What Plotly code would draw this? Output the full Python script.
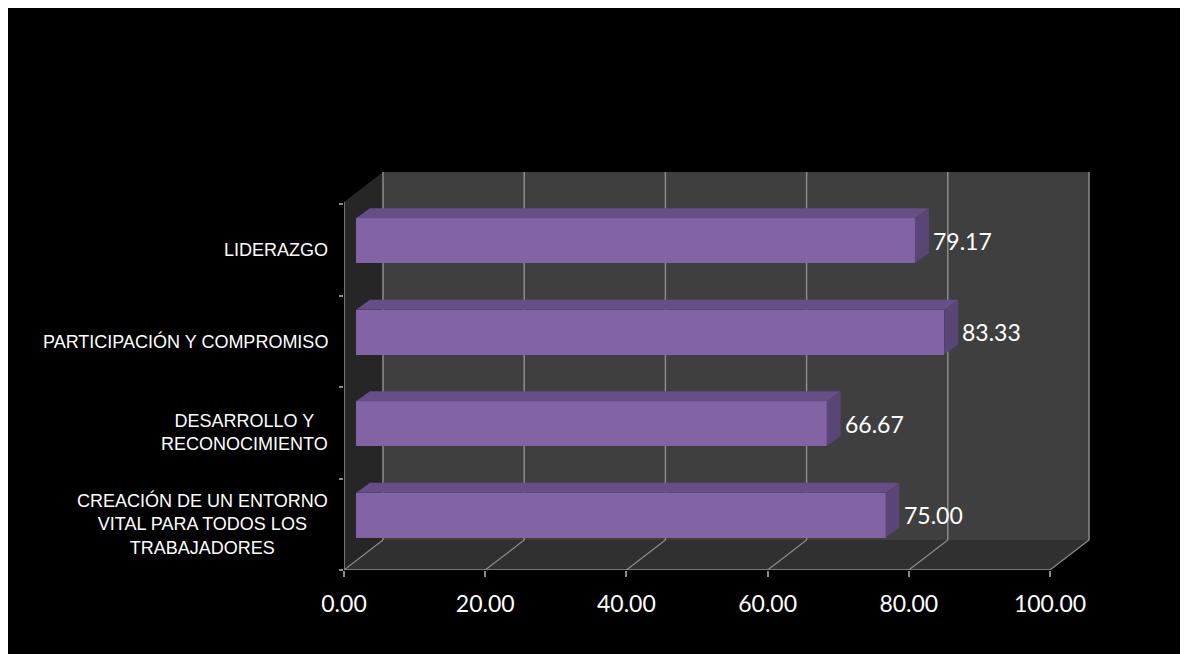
import plotly.graph_objects as go

# ---- data ----
categories = ["CREACIÓN DE UN ENTORNO<br>VITAL PARA TODOS LOS<br>TRABAJADORES",
              "DESARROLLO Y<br>RECONOCIMIENTO",
              "PARTICIPACIÓN Y COMPROMISO",
              "LIDERAZGO"]
values = [75.00, 66.67, 83.33, 79.17]
x_ticks = [0, 20, 40, 60, 80, 100]
x_ticklabels = ["0.00", "20.00", "40.00", "60.00", "80.00", "100.00"]

# ---- 3D geometry (in axis units) ----
W, H = 1180, 646          # page body margin (8px) gives the white border
OFF = 8
PL, PR = 344 - OFF, 1096 - OFF     # plot area left/right (figure px)
PB, PT = 570 - OFF, 167 - OFF      # plot area bottom/top (figure px)
PX_PER_X = 7.06
PX_PER_Y = 91.5
DX = 39 / PX_PER_X       # depth shift of the back wall, x units
DY = 30 / PX_PER_Y       # depth shift of the back wall, y units
TOP_BACK = (570 - 172) / PX_PER_Y
TOP_FRONT = TOP_BACK - DY
XMAX = 100
BAR_OFF_X = 12 / PX_PER_X
BAR_OFF_Y = 0.10
BAR_W = 0.49
BAR_DX = 14 / PX_PER_X
BAR_DY = 10 / PX_PER_Y

FONT_NUM = "Lato"
GRID = "#8c8c8c"

fig = go.Figure()
shapes = []

def poly(pts):
    return "M " + " L ".join(f"{x},{y}" for x, y in pts) + " Z"

# back wall
shapes.append(dict(type="path", xref="x", yref="y",
                   path=poly([(DX, DY), (XMAX + DX, DY), (XMAX + DX, TOP_BACK), (DX, TOP_BACK)]),
                   fillcolor="#3f3f3f", line_width=0, layer="below"))
# floor
shapes.append(dict(type="path", xref="x", yref="y",
                   path=poly([(0, 0), (XMAX, 0), (XMAX + DX, DY), (DX, DY)]),
                   fillcolor="#303030", line_width=0, layer="below"))
# left wall
shapes.append(dict(type="path", xref="x", yref="y",
                   path=poly([(0, 0), (DX, DY), (DX, TOP_BACK), (0, TOP_FRONT)]),
                   fillcolor="#262626", line_width=0, layer="below"))

# gridlines on back wall and floor
for v in x_ticks:
    shapes.append(dict(type="line", xref="x", yref="y", x0=v + DX, x1=v + DX, y0=DY, y1=TOP_BACK,
                       line=dict(color=GRID, width=1.5), layer="below"))
    shapes.append(dict(type="line", xref="x", yref="y", x0=v, x1=v + DX, y0=0, y1=DY,
                       line=dict(color=GRID, width=1.2), layer="below"))
# front baseline and left axis line
shapes.append(dict(type="line", xref="x", yref="y", x0=0, x1=XMAX, y0=0, y1=0,
                   line=dict(color=GRID, width=1.5), layer="below"))
shapes.append(dict(type="line", xref="x", yref="y", x0=0, x1=0, y0=0, y1=TOP_FRONT,
                   line=dict(color=GRID, width=1.5), layer="below"))

# bars
ypos = [i + 0.5 + BAR_OFF_Y for i in range(len(categories))]
FRONT = "#8264a4"
TOPC = "#654f86"
SIDE = "#5a4577"

for i, (v, yc) in enumerate(zip(values, ypos)):
    x0 = BAR_OFF_X
    x1 = BAR_OFF_X + v
    yb = yc - BAR_W / 2
    yt = yc + BAR_W / 2
    # top face
    fig.add_trace(go.Scatter(x=[x0, x0 + BAR_DX, x1 + BAR_DX, x1, x0],
                             y=[yt, yt + BAR_DY, yt + BAR_DY, yt, yt],
                             fill="toself", fillcolor=TOPC, mode="lines",
                             line=dict(width=0, color=TOPC), hoverinfo="skip", showlegend=False))
    # side face
    fig.add_trace(go.Scatter(x=[x1, x1 + BAR_DX, x1 + BAR_DX, x1, x1],
                             y=[yb, yb + BAR_DY, yt + BAR_DY, yt, yb],
                             fill="toself", fillcolor=SIDE, mode="lines",
                             line=dict(width=0, color=SIDE), hoverinfo="skip", showlegend=False))

fig.add_trace(go.Bar(x=values, y=ypos, base=[BAR_OFF_X] * len(values), orientation="h",
                     width=BAR_W, marker=dict(color=FRONT, line=dict(width=0)),
                     hoverinfo="skip", showlegend=False))

annotations = []
for v, yc in zip(values, ypos):
    annotations.append(dict(x=BAR_OFF_X + v + BAR_DX, y=yc, xref="x", yref="y",
                            text=f"{v:.2f}", showarrow=False, xanchor="left", yanchor="middle",
                            xshift=2, font=dict(family=FONT_NUM, size=23, color="white")))
for i, c in enumerate(categories):
    annotations.append(dict(x=0, y=i + 0.5, xref="x", yref="y", text=c, showarrow=False,
                            xanchor="right", yanchor="middle", align="center", xshift=-14,
                            font=dict(family="Liberation Sans, Arial", size=18, color="white")))

fig.update_layout(
    width=W, height=H,
    margin=dict(l=PL, r=W - PR, t=PT, b=H - PB, pad=0),
    paper_bgcolor="black", plot_bgcolor="black",
    shapes=shapes, annotations=annotations,
    bargap=0,
    xaxis=dict(range=[0, (PR - PL) / PX_PER_X], tickvals=x_ticks, ticktext=x_ticklabels,
               ticks="outside", ticklen=6, tickwidth=1.5, tickcolor=GRID,
               ticklabelstandoff=7,
               showgrid=False, zeroline=False, showline=False,
               tickfont=dict(family=FONT_NUM, size=23, color="white")),
    yaxis=dict(range=[0, (PB - PT) / PX_PER_Y], tickvals=[0, 1, 2, 3, 4], showticklabels=False,
               ticks="outside", ticklen=4, tickwidth=1.5, tickcolor=GRID,
               showgrid=False, zeroline=False, showline=False),
)

fig.write_html("out.html")
